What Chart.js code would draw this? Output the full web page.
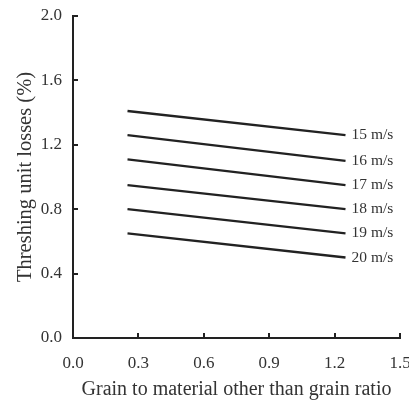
<!DOCTYPE html>
<html>
<head>
<meta charset="utf-8">
<script src="https://cdn.jsdelivr.net/npm/chart.js@4.4.0/dist/chart.umd.min.js"></script>
<style>
  html, body { margin: 0; padding: 0; background: #fff; overflow: hidden; }
  #wrap { width: 409px; height: 402px; position: relative; }
</style>
</head>
<body>
<div id="wrap"><canvas id="lossChart"></canvas></div>
<script>
// Grain / MOG ratio at the ends of each fitted line
const ratio = [0.25, 1.25];

// Threshing unit losses (%) per drum speed
const speedLabels = ['15 m/s', '16 m/s', '17 m/s', '18 m/s', '19 m/s', '20 m/s'];
const loss15 = [1.41, 1.26];
const loss16 = [1.26, 1.10];
const loss17 = [1.11, 0.95];
const loss18 = [0.95, 0.80];
const loss19 = [0.80, 0.65];
const loss20 = [0.65, 0.50];
const lossSeries = [loss15, loss16, loss17, loss18, loss19, loss20];

const xTicks = [0.0, 0.3, 0.6, 0.9, 1.2, 1.5];
const yTicks = [0.0, 0.4, 0.8, 1.2, 1.6, 2.0];

const SERIF = "'Liberation Serif', 'Times New Roman', serif";
const TEXT = '#333';
const INK = '#222';

// draws the small inward tick marks and the speed labels at line ends
const decorPlugin = {
    id: 'decor',
    afterDraw(chart) {
        const { ctx, chartArea } = chart;
        const xs = chart.scales.x, ys = chart.scales.y;
        ctx.save();
        ctx.strokeStyle = INK;
        ctx.lineWidth = 2;
        ctx.beginPath();
        xTicks.forEach(v => {
            const px = Math.round(xs.getPixelForValue(v));
            ctx.moveTo(px, chartArea.bottom);
            ctx.lineTo(px, chartArea.bottom - 5);
        });
        yTicks.forEach(v => {
            const py = Math.round(ys.getPixelForValue(v));
            ctx.moveTo(chartArea.left, py);
            ctx.lineTo(chartArea.left + 5, py);
        });
        ctx.stroke();

        ctx.fillStyle = TEXT;
        ctx.font = '15.5px ' + SERIF;
        ctx.textAlign = 'left';
        ctx.textBaseline = 'middle';
        chart.data.datasets.forEach(ds => {
            const last = ds.data[ds.data.length - 1];
            const px = xs.getPixelForValue(last.x) + 6;
            const py = ys.getPixelForValue(last.y);
            ctx.fillText(ds.label, px, py);
        });
        ctx.restore();
    }
};

const datasets = lossSeries.map((vals, i) => ({
    label: speedLabels[i],
    data: ratio.map((r, j) => ({ x: r, y: vals[j] })),
    borderColor: INK,
    borderWidth: 2.3,
    pointRadius: 0,
    fill: false,
    tension: 0
}));

new Chart(document.getElementById('lossChart'), {
    type: 'line',
    data: { datasets },
    options: {
        responsive: true,
        maintainAspectRatio: false,
        animation: false,
        layout: { padding: { top: 16, left: 0, right: 0, bottom: 0 } },
        plugins: {
            legend: { display: false },
            tooltip: { enabled: false }
        },
        scales: {
            x: {
                type: 'linear',
                min: 0,
                max: 1.5,
                afterBuildTicks: s => { s.ticks = xTicks.map(v => ({ value: v })); },
                afterFit: s => { s.height = 64; s.paddingLeft = 0; s.paddingRight = 9; },
                grid: { display: false, drawTicks: false },
                border: { display: true, color: INK, width: 2 },
                ticks: {
                    padding: 15,
                    color: TEXT,
                    maxRotation: 0,
                    font: { family: SERIF, size: 17 },
                    callback: v => v.toFixed(1)
                },
                title: {
                    display: true,
                    text: 'Grain to material other than grain ratio',
                    color: TEXT,
                    font: { family: SERIF, size: 20 },
                    padding: { top: 4, bottom: 0 }
                }
            },
            y: {
                min: 0,
                max: 2.0,
                afterBuildTicks: s => { s.ticks = yTicks.map(v => ({ value: v })); },
                afterFit: s => { s.width = 73; s.paddingTop = 0; },
                grid: { display: false, drawTicks: false },
                border: { display: true, color: INK, width: 2 },
                ticks: {
                    padding: 11,
                    color: TEXT,
                    font: { family: SERIF, size: 17 },
                    callback: v => v.toFixed(1)
                },
                title: {
                    display: true,
                    text: 'Threshing unit losses (%)',
                    color: TEXT,
                    font: { family: SERIF, size: 20.5 },
                    padding: { top: 13, bottom: 0 }
                }
            }
        }
    },
    plugins: [decorPlugin]
});
</script>
</body>
</html>
